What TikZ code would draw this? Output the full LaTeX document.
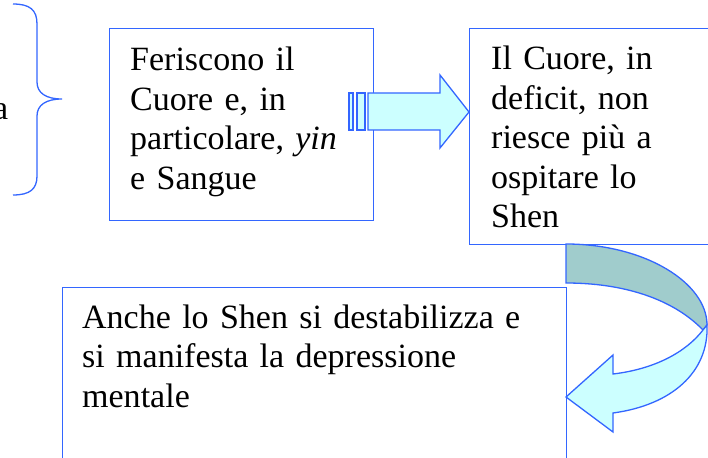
\documentclass[tikz,border=0pt]{standalone}
\usepackage{fontspec}
\setmainfont{Liberation Serif}
\usepackage{xcolor}
\usepackage{tikz}
\definecolor{bordo}{RGB}{51,102,255}
\definecolor{ciano}{RGB}{204,255,255}
\definecolor{petrolio}{RGB}{160,204,204}

\begin{document}
\begin{tikzpicture}[x=1pt, y=-1pt,
    box/.style={draw=bordo, line width=1.3pt, anchor=north west, inner sep=0pt},
    testo/.style={anchor=base west, align=left, inner sep=0pt,
      font=\fontsize{34}{39.5}\selectfont},
    freccia/.style={draw=bordo, line width=1.3pt, line join=miter}]
    \useasboundingbox (0,0) rectangle (708,457);
    \clip (0,0) rectangle (708,457);
    \node[testo, anchor=base east] (resto) at (8.5,120) {a};
    \draw[bordo, line width=1.3pt] (13,4) .. controls (30,4) and (37,10) .. (37,24)
      -- (37,82) .. controls (37,93) and (46,99) .. (62,99)
      .. controls (46,99) and (37,105) .. (37,116)
      -- (37,176) .. controls (37,189) and (30,195) .. (13,195);
    \node[box, minimum width=264pt, minimum height=192pt] (feriscono) at (109,28) {};
    \node[box, minimum width=260pt, minimum height=216pt] (cuore) at (469,28) {};
    \node[box, minimum width=504pt, minimum height=200pt] (shen) at (62,287) {};
    \node[testo, text width=235pt] (t1) at (130,71) {Feriscono il\\Cuore e, in\\particolare, \textit{yin}\\e Sangue};
    \node[testo, text width=210pt] (t2) at (491,70) {Il Cuore, in\\deficit, non\\riesce più a\\ospitare lo\\Shen};
    \node[testo, text width=470pt] (t3) at (82,328) {Anche lo Shen si destabilizza e\\si manifesta la depressione\\mentale};
    \draw[freccia, fill=ciano] (349,93) rectangle (353,130);
    \draw[freccia, fill=ciano] (357,93) rectangle (365,130);
    \draw[freccia, fill=ciano] (368,93) -- (440,93) -- (440,75) -- (469,112)
      -- (440,148) -- (440,130) -- (368,130) -- cycle;
    \draw[freccia, fill=petrolio] (566,244) .. controls (645,244) and (707,283) .. (707,325)
      -- (703,330) .. controls (672,298) and (622,283) .. (566,283) -- cycle;
    \draw[freccia, fill=ciano] (703,330) .. controls (686,352) and (655,369) .. (613,374)
      -- (613,355) -- (566,397) -- (613,432) -- (613,413)
      .. controls (672,405) and (709,372) .. (707,325) -- cycle;
\end{tikzpicture}
\end{document}
